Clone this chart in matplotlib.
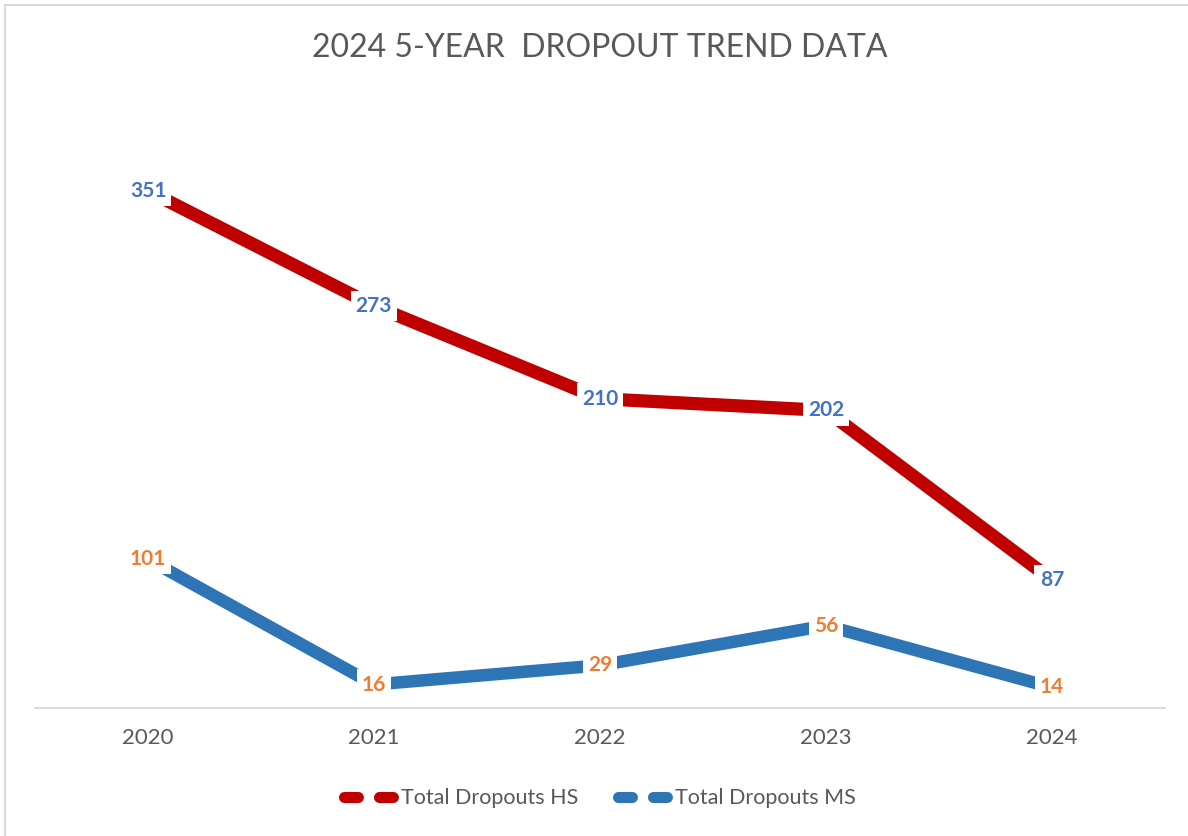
import matplotlib.pyplot as plt
import matplotlib.patches as patches
from matplotlib.lines import Line2D

# --- Data ---
years = ['2020', '2021', '2022', '2023', '2024']
hs_dropouts = [351, 273, 210, 202, 87]
ms_dropouts = [101, 16, 29, 56, 14]

# --- Style ---
HS_COLOR = '#C00000'
MS_COLOR = '#2E75B6'
HS_LABEL_COLOR = '#4472C4'
MS_LABEL_COLOR = '#ED7D31'
TEXT_COLOR = '#595959'
FONT = ['Lato', 'DejaVu Sans']

plt.rcParams['font.family'] = FONT
plt.rcParams['lines.scale_dashes'] = False

fig = plt.figure(figsize=(11.88, 8.36), dpi=100)
ax = fig.add_axes([0.0295, 0.153, 0.951, 0.705])

x = list(range(len(years)))
ax.plot(x, hs_dropouts, color=HS_COLOR, lw=9.5, solid_capstyle='butt',
        solid_joinstyle='miter', zorder=2)
ax.plot(x, ms_dropouts, color=MS_COLOR, lw=9, solid_capstyle='butt',
        solid_joinstyle='miter', zorder=2)

# data labels with white boxes breaking the line
box = dict(boxstyle='square,pad=0.25', fc='white', ec='none')
for xi, v in zip(x, hs_dropouts):
    ax.text(xi, v, str(v), ha='center', va='center', fontsize=15,
            fontweight='bold', color=HS_LABEL_COLOR, bbox=box, zorder=3)
for xi, v in zip(x, ms_dropouts):
    ax.text(xi, v, str(v), ha='center', va='center', fontsize=15,
            fontweight='bold', color=MS_LABEL_COLOR, bbox=box, zorder=3)

ax.set_xlim(-0.5, len(years) - 0.5)
ax.set_ylim(0, 400)
ax.set_xticks(x)
ax.set_xticklabels(years, fontsize=16, color=TEXT_COLOR)
ax.set_yticks([])
ax.tick_params(axis='x', length=0, pad=14)
for side in ['top', 'right', 'left']:
    ax.spines[side].set_visible(False)
ax.spines['bottom'].set_color('#D9D9D9')
ax.spines['bottom'].set_linewidth(1.3)
ax.spines['bottom'].set_zorder(1)

fig.text(0.505, 0.942, '2024 5-YEAR  DROPOUT TREND DATA', ha='center', va='center',
         fontsize=23, color=TEXT_COLOR)

# legend with broken line handles
handles = [
    Line2D([], [], color=HS_COLOR, lw=8, linestyle=(0, (10, 15.2)),
           dash_capstyle='round'),
    Line2D([], [], color=MS_COLOR, lw=8, linestyle=(0, (10, 15.2)),
           dash_capstyle='round'),
]
fig.legend(handles, ['Total Dropouts HS', 'Total Dropouts MS'], loc='center',
           bbox_to_anchor=(0.505, 0.045), ncol=2, frameon=False, fontsize=15.5,
           labelcolor=TEXT_COLOR, handlelength=2.27, handletextpad=0.35,
           columnspacing=1.87)

# outer chart border (top and left visible)
border = patches.Rectangle((0.004, -0.05), 1.1, 1.044, transform=fig.transFigure,
                           fill=False, ec='#D9D9D9', lw=1.5)
fig.patches.append(border)

fig.savefig('out.png', dpi=100)
